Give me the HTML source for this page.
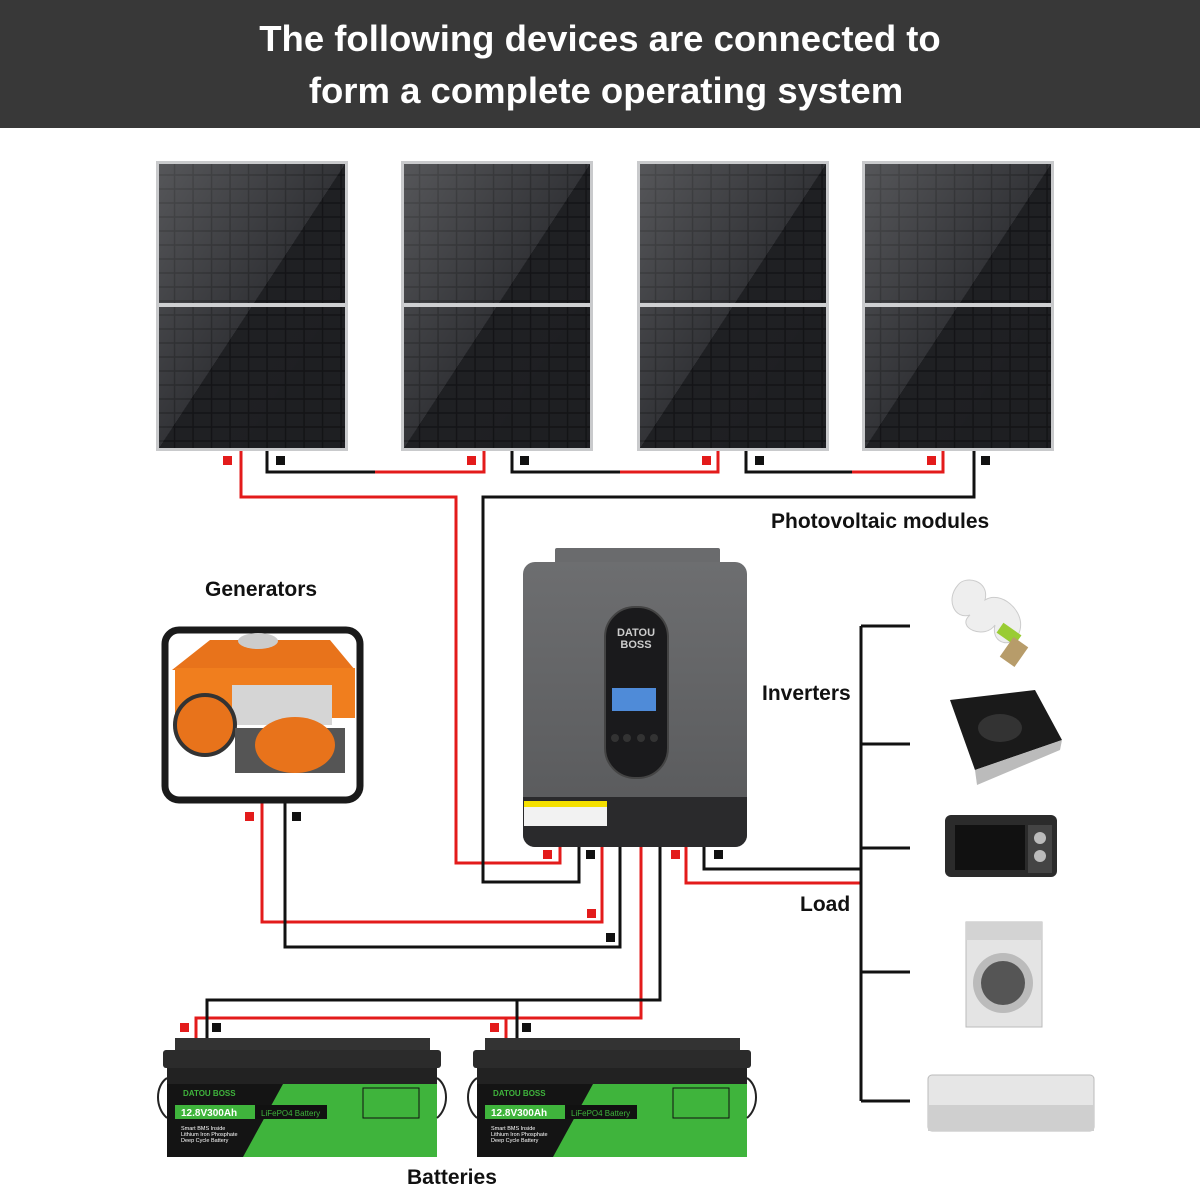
<!DOCTYPE html>
<html><head><meta charset="utf-8"><style>
html,body{margin:0;padding:0;background:#fff;width:1200px;height:1200px;overflow:hidden}
svg{display:block}
text{font-family:"Liberation Sans",Arial,sans-serif}
</style></head><body>
<svg width="1200" height="1200" viewBox="0 0 1200 1200" xmlns="http://www.w3.org/2000/svg">
<defs>
<pattern id="cells" x="0" y="0" width="18.5" height="14" patternUnits="userSpaceOnUse">
<rect width="18.5" height="14" fill="#18191c"/>
<rect x="0.8" y="0.8" width="17" height="12.4" fill="#26272b"/>
</pattern>
<linearGradient id="shine" x1="0" y1="0" x2="1" y2="1">
<stop offset="0" stop-color="#fff" stop-opacity="0.22"/>
<stop offset="0.5" stop-color="#fff" stop-opacity="0.06"/>
<stop offset="0.5" stop-color="#000" stop-opacity="0.18"/>
<stop offset="1" stop-color="#000" stop-opacity="0.22"/>
</linearGradient>
<linearGradient id="inv" x1="0" y1="0" x2="0" y2="1">
<stop offset="0" stop-color="#6d6e70"/><stop offset="1" stop-color="#57585a"/>
</linearGradient>
<g id="panel">
<rect x="0" y="0" width="192" height="290" fill="#c9cacc"/>
<rect x="3" y="3" width="186" height="284" fill="url(#cells)"/>
<rect x="3" y="3" width="186" height="284" fill="url(#shine)"/>
<rect x="3" y="142" width="186" height="4" fill="#cfd0d2"/>
</g>
<g id="batt">
<rect x="12" y="0" width="255" height="14" fill="#333"/>
<rect x="0" y="12" width="278" height="18" rx="3" fill="#2b2b2b"/>
<rect x="4" y="30" width="270" height="16" fill="#222"/>
<rect x="4" y="46" width="270" height="73" fill="#141414"/>
<polygon points="120,46 274,46 274,119 80,119" fill="#3fb43c"/>
<text x="20" y="58" font-size="8" font-weight="bold" fill="#3fb43c">DATOU BOSS</text>
<rect x="12" y="67" width="80" height="14" fill="#3fb43c"/>
<text x="18" y="78" font-size="10" font-weight="bold" fill="#fff">12.8V300Ah</text>
<rect x="92" y="67" width="72" height="14" fill="#111"/>
<text x="98" y="78" font-size="8" fill="#3fb43c">LiFePO4 Battery</text>
<text x="18" y="92" font-size="5.5" fill="#fff">Smart BMS Inside</text>
<text x="18" y="98" font-size="5.5" fill="#fff">Lithium Iron Phosphate</text>
<text x="18" y="104" font-size="5.5" fill="#fff">Deep Cycle Battery</text>
<rect x="200" y="50" width="56" height="30" fill="none" stroke="#111"/>
<path d="M4 40 C-8 48,-8 70,4 80 M274 40 C286 48,286 70,274 80" stroke="#222" stroke-width="2" fill="none"/>
</g>
</defs>

<rect x="0" y="0" width="1200" height="128" fill="#383838"/>
<text x="600" y="51" font-size="36.5" font-weight="bold" fill="#fff" text-anchor="middle">The following devices are connected to</text>
<text x="606" y="103" font-size="36.5" font-weight="bold" fill="#fff" text-anchor="middle">form a complete operating system</text>

<use href="#panel" x="156" y="161"/>
<use href="#panel" x="401" y="161"/>
<use href="#panel" x="637" y="161"/>
<use href="#panel" x="862" y="161"/>

<g fill="none" stroke-width="3">
<polyline points="267,451 267,472 375,472" stroke="#111"/>
<polyline points="375,472 484,472 484,451" stroke="#e31b1b"/>
<polyline points="512,451 512,472 620,472" stroke="#111"/>
<polyline points="620,472 718,472 718,451" stroke="#e31b1b"/>
<polyline points="746,451 746,472 852,472" stroke="#111"/>
<polyline points="852,472 943,472 943,451" stroke="#e31b1b"/>
<polyline points="241,451 241,497 456,497 456,863 560,863 560,846" stroke="#e31b1b"/>
<polyline points="974,451 974,497 483,497 483,882 579,882 579,846" stroke="#111"/>
<polyline points="262,800 262,922 602,922 602,846" stroke="#e31b1b"/>
<polyline points="285,800 285,947 620,947 620,846" stroke="#111"/>
<polyline points="641,846 641,1018 196,1018 196,1040" stroke="#e31b1b"/>
<polyline points="506,1018 506,1040" stroke="#e31b1b"/>
<polyline points="660,846 660,1000 207,1000 207,1040" stroke="#111"/>
<polyline points="517,1000 517,1040" stroke="#111"/>
<polyline points="686,846 686,883 861,883" stroke="#e31b1b"/>
<polyline points="704,846 704,869 861,869" stroke="#111"/>
<polyline points="861,626 861,1101" stroke="#111"/>
<path d="M861,626 H910 M861,744 H910 M861,848 H910 M861,972 H910 M861,1101 H910" stroke="#111"/>
</g>

<g>
<g fill="#e31b1b">
<rect x="223" y="456" width="9" height="9"/><rect x="467" y="456" width="9" height="9"/><rect x="702" y="456" width="9" height="9"/><rect x="927" y="456" width="9" height="9"/>
<rect x="543" y="850" width="9" height="9"/><rect x="587" y="909" width="9" height="9"/><rect x="671" y="850" width="9" height="9"/><rect x="245" y="812" width="9" height="9"/>
<rect x="180" y="1023" width="9" height="9"/><rect x="490" y="1023" width="9" height="9"/>
</g>
<g fill="#111">
<rect x="276" y="456" width="9" height="9"/><rect x="520" y="456" width="9" height="9"/><rect x="755" y="456" width="9" height="9"/><rect x="981" y="456" width="9" height="9"/>
<rect x="586" y="850" width="9" height="9"/><rect x="606" y="933" width="9" height="9"/><rect x="714" y="850" width="9" height="9"/><rect x="292" y="812" width="9" height="9"/>
<rect x="212" y="1023" width="9" height="9"/><rect x="522" y="1023" width="9" height="9"/>
</g>
</g>

<!-- inverter -->
<rect x="555" y="548" width="165" height="20" rx="2" fill="#6a6b6d"/>
<rect x="523" y="562" width="224" height="285" rx="12" fill="url(#inv)"/>
<path d="M523 797 H747 V835 a12 12 0 0 1 -12 12 H535 a12 12 0 0 1 -12 -12 Z" fill="#2a2a2c"/>
<rect x="605" y="607" width="63" height="171" rx="30" fill="#1a1a1c" stroke="#444" stroke-width="2"/>
<text x="636" y="636" font-size="11" font-weight="bold" fill="#ccc" text-anchor="middle">DATOU</text>
<text x="636" y="648" font-size="11" font-weight="bold" fill="#ccc" text-anchor="middle">BOSS</text>
<rect x="612" y="688" width="44" height="23" fill="#4f8bd8"/>
<g fill="#333"><circle cx="615" cy="738" r="4"/><circle cx="627" cy="738" r="4"/><circle cx="641" cy="738" r="4"/><circle cx="654" cy="738" r="4"/></g>
<rect x="524" y="801" width="83" height="25" fill="#f2f2f2"/><rect x="524" y="801" width="83" height="6" fill="#f5e000"/>

<!-- generator -->
<rect x="165" y="630" width="195" height="170" rx="14" fill="none" stroke="#1a1a1a" stroke-width="7"/>
<path d="M172 670 L210 640 H330 L355 670 Z" fill="#e8731b"/>
<rect x="175" y="668" width="180" height="50" fill="#f07e1e"/>
<rect x="232" y="685" width="100" height="40" fill="#d5d5d5"/>
<circle cx="205" cy="725" r="30" fill="#e8731b" stroke="#333" stroke-width="4"/>
<rect x="235" y="728" width="110" height="45" fill="#555"/>
<ellipse cx="295" cy="745" rx="40" ry="28" fill="#e8731b"/>
<ellipse cx="258" cy="641" rx="20" ry="8" fill="#ccc"/>

<!-- appliances -->
<g>
<path d="M958 585 C945 600,955 620,970 615 C955 628,985 640,995 625 C990 645,1015 650,1020 630 C1025 610,1000 590,985 600 C990 580,965 575,958 585Z" fill="#eee" stroke="#ccc"/>
<rect x="998" y="628" width="22" height="12" fill="#9c3" transform="rotate(35 1009 634)"/>
<rect x="1005" y="640" width="18" height="24" fill="#b79c6a" transform="rotate(35 1014 652)"/>
<path d="M950 700 L1035 690 L1062 740 L975 770 Z" fill="#1a1a1a"/>
<path d="M975 770 L1062 740 L1060 750 L977 785 Z" fill="#bbb"/>
<ellipse cx="1000" cy="728" rx="22" ry="14" fill="#333"/>
<rect x="945" y="815" width="112" height="62" rx="6" fill="#2b2b2b"/>
<rect x="955" y="825" width="70" height="45" fill="#111"/>
<rect x="1028" y="825" width="24" height="48" fill="#444"/>
<circle cx="1040" cy="838" r="6" fill="#bbb"/><circle cx="1040" cy="856" r="6" fill="#bbb"/>
<rect x="966" y="922" width="76" height="105" fill="#e4e4e4" stroke="#bbb"/>
<rect x="966" y="922" width="76" height="18" fill="#d3d3d3"/>
<circle cx="1003" cy="983" r="30" fill="#bbb"/><circle cx="1003" cy="983" r="22" fill="#555"/>
<rect x="928" y="1075" width="166" height="56" rx="4" fill="#e6e6e6" stroke="#bbb"/>
<rect x="928" y="1105" width="166" height="26" fill="#cfcfcf"/>
</g>

<use href="#batt" x="163" y="1038"/>
<use href="#batt" x="473" y="1038"/>

<g font-size="21" font-weight="bold" fill="#111">
<text x="771" y="528">Photovoltaic modules</text>
<text x="205" y="596">Generators</text>
<text x="762" y="700">Inverters</text>
<text x="800" y="911">Load</text>
<text x="407" y="1184">Batteries</text>
</g>
</svg>
</body></html>
